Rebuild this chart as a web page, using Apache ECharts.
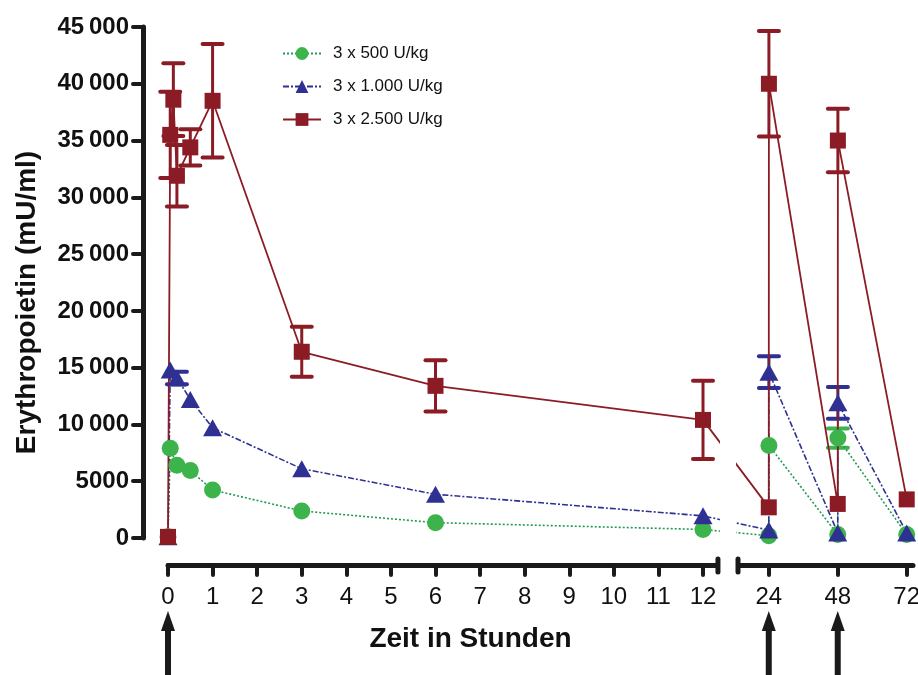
<!DOCTYPE html>
<html>
<head>
<meta charset="utf-8">
<title>Erythropoietin</title>
<script src="https://cdn.jsdelivr.net/npm/echarts@6.0.0/dist/echarts.min.js"></script>
<style>
  html, body { margin: 0; padding: 0; background: #fff; }
  #chart { width: 918px; height: 675px; }
</style>
</head>
<body>
<div id="chart"></div>
<script>
// time in hours; at 24 and 48 h there is a value before and right after the next dose
const times500 = [0, 0.05, 0.2, 0.5, 1, 3, 6, 12, 24, 24.05, 48, 48.05, 72];
const vals500  = [100, 7900, 6400, 5950, 4230, 2380, 1350, 750, 200, 8150, 300, 8800, 300];
const sd500    = [0, 0, 0, 0, 0, 0, 0, 0, 0, 0, 0, 850, 0];

const times1000 = [0, 0.05, 0.2, 0.5, 1, 3, 6, 12, 24, 24.05, 48, 48.05, 72];
const vals1000  = [100, 14800, 14100, 12200, 9700, 6100, 3850, 1950, 700, 14600, 450, 11900, 450];
const sd1000    = [0, 0, 550, 0, 0, 0, 0, 0, 0, 1400, 0, 1400, 0];

const times2500 = [0, 0.05, 0.12, 0.2, 0.5, 1, 3, 6, 12, 24, 24.05, 48, 48.05, 72];
const vals2500  = [100, 35500, 38600, 31900, 34400, 38500, 16400, 13400, 10400, 2700, 40000, 3000, 35000, 3400];
const sd2500    = [0, 3800, 3200, 2700, 1600, 5000, 2200, 2250, 3450, 0, 4650, 0, 2800, 0];

const xTickHours = [0, 1, 2, 3, 4, 5, 6, 7, 8, 9, 10, 11, 12, 24, 48, 72];
const yTickLabels = ['0', '5000', '10\u2009000', '15\u2009000', '20\u2009000', '25\u2009000',
                     '30\u2009000', '35\u2009000', '40\u2009000', '45\u2009000'];
const doseHours = [0, 24, 48];

// broken time axis: 0-12 h linear, then 24-72 h compressed
const SEG2_START = 13.475;      // axis position of 24 h
const SEG2_SCALE = 1.547 / 24;  // axis units per hour after the break
const GAP = [12.38, 12.74];     // blank part of the axis
function disp(t) { return t <= 12 ? t : SEG2_START + (t - 24) * SEG2_SCALE; }
function hours(d) { return d <= 12.5 ? d : 24 + (d - SEG2_START) / SEG2_SCALE; }

const FONT = "'Liberation Sans', Arial, sans-serif";
const INK = '#1a1a1a';

const groups = [
  { name: '3 x 500 U/kg', t: times500, v: vals500, sd: sd500, color: '#3cb44b', lineColor: '#229a55',
    symbol: 'circle', size: 17, dash: [2, 2] },
  { name: '3 x 1.000 U/kg', t: times1000, v: vals1000, sd: sd1000, color: '#2e3192', lineColor: '#2e3192',
    symbol: 'triangle', size: [19, 17], dash: [6, 2, 2, 2] },
  { name: '3 x 2.500 U/kg', t: times2500, v: vals2500, sd: sd2500, color: '#8b1c25', lineColor: '#8b1c25',
    symbol: 'rect', size: 16, dash: 'solid' }
];

const series = [];
groups.forEach(g => {
  series.push({
    name: g.name,
    type: 'line',
    data: g.t.map((t, i) => [disp(t), g.v[i]]),
    symbol: g.symbol,
    symbolSize: g.size,
    itemStyle: { color: g.color },
    lineStyle: { color: g.lineColor, width: g.dash === 'solid' ? 1.8 : 1.6, type: g.dash },
    animation: false
  });
});
groups.forEach(g => {
  const bars = [];
  g.t.forEach((t, i) => {
    if (g.sd[i] > 0) bars.push([disp(t), g.v[i] - g.sd[i], g.v[i] + g.sd[i]]);
  });
  series.push({
    name: g.name + ' SD',
    type: 'custom',
    data: bars,
    encode: { x: 0, y: [1, 2] },
    renderItem: function (params, api) {
      const lo = api.coord([api.value(0), api.value(1)]);
      const hi = api.coord([api.value(0), api.value(2)]);
      const w = 10;
      const st = { stroke: g.color, lineWidth: 4, lineCap: 'round' };
      return {
        type: 'group',
        children: [
          { type: 'line', shape: { x1: lo[0], y1: lo[1], x2: hi[0], y2: hi[1] }, style: { stroke: g.color, lineWidth: 3 } },
          { type: 'line', shape: { x1: hi[0] - w, y1: hi[1], x2: hi[0] + w, y2: hi[1] }, style: st },
          { type: 'line', shape: { x1: lo[0] - w, y1: lo[1], x2: lo[0] + w, y2: lo[1] }, style: st }
        ]
      };
    },
    animation: false
  });
});

const chart = echarts.init(document.getElementById('chart'));
chart.setOption({
  backgroundColor: '#fff',
  textStyle: { fontFamily: FONT },
  grid: { left: 168, right: 5, top: 27, bottom: 137, outerBoundsMode: 'none' },
  legend: {
    data: groups.map(g => g.name),
    orient: 'vertical',
    left: 282,
    top: 45,
    padding: 0,
    itemWidth: 38,
    itemHeight: 16,
    itemGap: 16,
    textStyle: { fontFamily: FONT, fontSize: 17, color: '#111', padding: [0, 0, 0, 7] }
  },
  xAxis: {
    type: 'value',
    min: 0,
    max: 16.71,
    offset: 27,
    splitLine: { show: false },
    axisLine: { onZero: false, lineStyle: { color: INK, width: 5, cap: 'round' } },
    axisTick: { customValues: xTickHours.map(disp), length: 10, lineStyle: { color: INK, width: 4, cap: 'round' } },
    axisLabel: {
      customValues: xTickHours.map(disp),
      formatter: v => String(Math.round(hours(v))),
      fontFamily: FONT, fontSize: 24, color: '#111', margin: 20
    },
    name: 'Zeit in Stunden',
    nameLocation: 'middle',
    nameGap: 60,
    nameMoveOverlap: false,
    nameTextStyle: { fontFamily: FONT, fontSize: 28, fontWeight: 'bold', color: '#111', padding: [0, 140, 0, 0] }
  },
  yAxis: {
    type: 'value',
    min: 0,
    max: 45000,
    interval: 5000,
    offset: 25,
    splitLine: { show: false },
    axisLine: { show: true, onZero: false, lineStyle: { color: INK, width: 5, cap: 'round' } },
    axisTick: { show: true, length: 10, lineStyle: { color: INK, width: 4, cap: 'round' } },
    axisLabel: {
      formatter: v => yTickLabels[Math.round(v / 5000)],
      fontFamily: FONT, fontSize: 24, fontWeight: 'bold', color: '#111', margin: 14
    },
    name: 'Erythropoietin (mU/ml)',
    nameLocation: 'middle',
    nameGap: 102,
    nameMoveOverlap: false,
    nameTextStyle: { fontFamily: FONT, fontSize: 28, fontWeight: 'bold', color: '#111', padding: [0, 40, 0, 0] }
  },
  series: series
});

// gap in the time axis, its end caps and the dose arrows
function decorate() {
  const els = [];
  const g1 = chart.convertToPixel({ xAxisIndex: 0 }, GAP[0]);
  const g2 = chart.convertToPixel({ xAxisIndex: 0 }, GAP[1]);
  const axisY = 565;
  els.push({ type: 'rect', z: 100, shape: { x: g1, y: 0, width: g2 - g1, height: axisY + 8 }, style: { fill: '#fff' } });
  [g1 - 2, g2 + 2].forEach(x => {
    els.push({ type: 'line', z: 101, shape: { x1: x, y1: axisY - 6, x2: x, y2: axisY + 7 },
      style: { stroke: INK, lineWidth: 5, lineCap: 'round' } });
  });
  doseHours.forEach(h => {
    const x = chart.convertToPixel({ xAxisIndex: 0 }, disp(h));
    els.push({ type: 'polygon', z: 100, shape: { points: [[x, 611], [x - 7, 631], [x + 7, 631]] }, style: { fill: INK } });
    els.push({ type: 'rect', z: 100, shape: { x: x - 3, y: 628, width: 6, height: 50 }, style: { fill: INK } });
  });
  chart.setOption({ graphic: els });
}
decorate();
</script>
</body>
</html>
